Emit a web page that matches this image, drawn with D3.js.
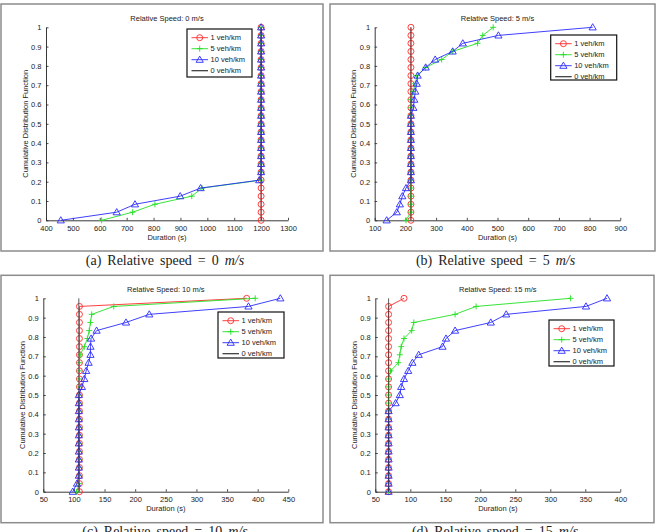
<!DOCTYPE html>
<html lang="en">
<head>
<meta charset="UTF-8">
<title>CDF of duration vs relative speed</title>
<style>
  body { margin: 0; background: #fff; }
  svg { display: block; font-family: "Liberation Sans", Arial, sans-serif; }
</style>
</head>
<body>
<script src="https://cdn.jsdelivr.net/npm/d3@7/dist/d3.min.js"></script>
<script>
// CDF levels (24 runs each)
const cdfLevels = [0, 0.042, 0.083, 0.125, 0.167, 0.208, 0.25, 0.292, 0.333, 0.375, 0.417, 0.458,
    0.5, 0.542, 0.583, 0.625, 0.667, 0.708, 0.75, 0.792, 0.833, 0.875, 0.917, 0.958, 1];
const seriesNames = ["1 veh/km", "5 veh/km", "10 veh/km", "0 veh/km"];
const yTicks = [0, 0.1, 0.2, 0.3, 0.4, 0.5, 0.6, 0.7, 0.8, 0.9, 1];

// (a) relative speed 0 m/s, durations in s
const xTicksA = [400, 500, 600, 700, 800, 900, 1000, 1100, 1200, 1300];
const redA = [1200, 1200, 1200, 1200, 1200, 1200, 1200, 1200, 1200, 1200, 1200, 1200, 1200,
    1200, 1200, 1200, 1200, 1200, 1200, 1200, 1200, 1200, 1200, 1200, 1200];
const greenA = [607, 722, 805, 942, 980, 1200, 1200, 1200, 1200, 1200, 1200, 1200, 1200,
    1200, 1200, 1200, 1200, 1200, 1200, 1200, 1200, 1200, 1200, 1200, 1200];
const blueA = [455, 663, 731, 899, 975, 1193, 1200, 1200, 1200, 1200, 1200, 1200, 1200,
    1200, 1200, 1200, 1200, 1200, 1200, 1200, 1200, 1200, 1200, 1200, 1200];
const zeroA = [1200, 1200];

// (b) relative speed 5 m/s
const xTicksB = [100, 200, 300, 400, 500, 600, 700, 800, 900];
const redB = [218, 218, 218, 218, 218, 218, 218, 218, 218, 218, 218, 218, 218,
    218, 218, 218, 218, 218, 218, 218, 218, 218, 218, 218, 218];
const greenB = [202, 218, 218, 218, 218, 218, 218, 218, 218, 218, 218, 218, 218,
    218, 218, 218, 225, 232, 238, 266, 318, 354, 435, 452, 486];
const blueB = [139, 172, 182, 190, 202, 218, 218, 218, 218, 218, 218, 218, 218,
    218, 226, 229, 232, 237, 240, 266, 297, 354, 387, 503, 810];
const zeroB = [218, 218];

// (c) relative speed 10 m/s
const xTicksC = [50, 100, 150, 200, 250, 300, 350, 400, 450];
const redC = [109, 109, 109, 109, 109, 109, 109, 109, 109, 109, 109, 109, 109,
    109, 109, 109, 109, 109, 109, 109, 109, 109, 109, 109, 382];
const greenC = [104, 109, 109, 109, 109, 109, 109, 109, 109, 109, 109, 109, 109,
    109, 109, 109, 109, 110, 117, 122, 125, 127, 129, 165, 396];
const blueC = [98, 105, 108, 108, 108, 108, 108, 108, 108, 108, 108, 108, 108,
    113, 117, 120, 124, 127, 127, 128, 137, 185, 223, 385, 437];
const zeroC = [108, 108];

// (d) relative speed 15 m/s
const xTicksD = [50, 100, 150, 200, 250, 300, 350, 400];
const redD = [69, 69, 69, 69, 69, 69, 69, 69, 69, 69, 69, 69, 69,
    69, 69, 69, 69, 69, 69, 69, 69, 69, 69, 69, 91];
const greenD = [69, 69, 69, 69, 69, 69, 69, 69, 69, 69, 69, 69, 69,
    69, 69, 72, 83, 85, 87, 91, 102, 105, 164, 194, 329];
const blueD = [69, 69, 69, 69, 69, 69, 69, 69, 69, 69, 69, 79, 85,
    87, 91, 97, 103, 112, 146, 151, 164, 215, 237, 351, 381];
const zeroD = [69, 69];

const colors = ["#ff2a2a", "#22e022", "#2a2aff", "#333"];
const markers = ["circle", "plus", "triangle", null];

// layout of each panel (pixels)
const panels = [
    {title: "Relative Speed: 0 m/s", cap: "(a)", speed: "0", ticks: xTicksA, series: [redA, greenA, blueA], zero: zeroA,
     frame: [1, 4, 322, 247], plot: {l: 46, r: 288, t: 27.3, b: 220.3}, legend: [187, 29, 65, 48]},
    {title: "Relative Speed: 5 m/s", cap: "(b)", speed: "5", ticks: xTicksB, series: [redB, greenB, blueB], zero: zeroB,
     frame: [330, 4, 325, 247], plot: {l: 374.7, r: 620.3, t: 27.3, b: 220.3}, legend: [550.7, 35, 66, 45]},
    {title: "Relative Speed: 10 m/s", cap: "(c)", speed: "10", ticks: xTicksC, series: [redC, greenC, blueC], zero: zeroC,
     frame: [1, 275.3, 322, 247.4], plot: {l: 43.3, r: 288.3, t: 298.3, b: 491.7}, legend: [218, 312, 66, 46]},
    {title: "Relative Speed: 15 m/s", cap: "(d)", speed: "15", ticks: xTicksD, series: [redD, greenD, blueD], zero: zeroD,
     frame: [330, 275.3, 324, 247.4], plot: {l: 375.3, r: 620.3, t: 298.3, b: 491.7}, legend: [549, 320, 65, 46]}
];

const svg = d3.select("body").append("svg")
    .attr("width", 656)
    .attr("height", 532);

function drawMarker(g, type, x, y, color) {
    if (type === "circle") {
        g.append("circle").attr("cx", x).attr("cy", y).attr("r", 3)
            .attr("fill", "none").attr("stroke", color).attr("stroke-width", 0.9);
    } else if (type === "plus") {
        g.append("path").attr("d", `M${x - 3},${y}H${x + 3}M${x},${y - 3}V${y + 3}`)
            .attr("stroke", color).attr("stroke-width", 0.9);
    } else if (type === "triangle") {
        g.append("path").attr("d", `M${x},${y - 3.6}L${x + 3.6},${y + 2.6}L${x - 3.6},${y + 2.6}Z`)
            .attr("fill", "none").attr("stroke", color).attr("stroke-width", 0.9);
    }
}

panels.forEach(function(p) {
    const g = svg.append("g");
    const f = p.frame;
    g.append("rect")
        .attr("x", f[0]).attr("y", f[1]).attr("width", f[2]).attr("height", f[3])
        .attr("fill", "none").attr("stroke", "#8c8c8c").attr("stroke-width", 1.5);

    const x = d3.scaleLinear().domain(d3.extent(p.ticks)).range([p.plot.l, p.plot.r]);
    const y = d3.scaleLinear().domain([0, 1]).range([p.plot.b, p.plot.t]);

    // axes, MATLAB style inward ticks
    const xAxis = g.append("g").attr("transform", `translate(0,${p.plot.b})`)
        .call(d3.axisBottom(x).tickValues(p.ticks).tickFormat(d3.format("d"))
            .tickSizeInner(-2.5).tickSizeOuter(0).tickPadding(5));
    const yAxis = g.append("g").attr("transform", `translate(${p.plot.l},0)`)
        .call(d3.axisLeft(y).tickValues(yTicks).tickFormat(d3.format(""))
            .tickSizeInner(-2.5).tickSizeOuter(0).tickPadding(4.5));
    [xAxis, yAxis].forEach(function(a) {
        a.select(".domain").attr("stroke", "#222").attr("stroke-width", 0.9);
        a.selectAll(".tick line").attr("stroke", "#222").attr("stroke-width", 0.8);
        a.selectAll("text").attr("font-size", "7.5px").attr("fill", "#222")
            .attr("font-family", "'Liberation Sans', Arial, sans-serif");
    });

    g.append("text")
        .attr("x", (p.plot.l + p.plot.r) / 2).attr("y", p.plot.t - 6.5)
        .attr("text-anchor", "middle").attr("font-size", "7.5px").attr("fill", "#222")
        .text(p.title);
    g.append("text")
        .attr("x", (p.plot.l + p.plot.r) / 2).attr("y", p.plot.b + 19.5)
        .attr("text-anchor", "middle").attr("font-size", "7.5px").attr("fill", "#222")
        .text("Duration (s)");
    g.append("text")
        .attr("transform", `translate(${p.plot.l - 18.5},${(p.plot.t + p.plot.b) / 2}) rotate(-90)`)
        .attr("text-anchor", "middle").attr("font-size", "7.5px").attr("fill", "#222")
        .text("Cumulative Distribution Function");

    // series: red, green, blue with markers, then the 0 veh/km line
    const line = d3.line().x(function(d) { return x(d[0]); }).y(function(d) { return y(d[1]); });
    p.series.forEach(function(vals, i) {
        const pts = vals.map(function(v, k) { return [v, cdfLevels[k]]; });
        g.append("path").attr("d", line(pts))
            .attr("fill", "none").attr("stroke", colors[i]).attr("stroke-width", 0.9);
        const mg = g.append("g");
        pts.forEach(function(d) { drawMarker(mg, markers[i], x(d[0]), y(d[1]), colors[i]); });
    });
    g.append("path")
        .attr("d", line([[p.zero[0], 0], [p.zero[1], 1]]))
        .attr("fill", "none").attr("stroke", colors[3]).attr("stroke-width", 0.8);

    // legend
    const lg = p.legend;
    const leg = g.append("g");
    leg.append("rect").attr("x", lg[0]).attr("y", lg[1]).attr("width", lg[2]).attr("height", lg[3])
        .attr("fill", "#fff").attr("stroke", "#111").attr("stroke-width", 1.2);
    seriesNames.forEach(function(name, i) {
        const ry = lg[1] + 8.7 + i * 11;
        leg.append("line").attr("x1", lg[0] + 4.5).attr("x2", lg[0] + 21).attr("y1", ry).attr("y2", ry)
            .attr("stroke", colors[i]).attr("stroke-width", i === 3 ? 1.2 : 0.9);
        drawMarker(leg, markers[i], lg[0] + 12.7, ry, colors[i]);
        leg.append("text").attr("x", lg[0] + 23.5).attr("y", ry + 2.7)
            .attr("font-size", "7.5px").attr("fill", "#222").text(name);
    });

    // sub-figure caption (the bottom row's captions run off the page, as in the source)
    const cap = g.append("text")
        .attr("x", (f[0] + f[0] + f[2]) / 2 + 3).attr("y", f[1] + f[3] + 13.5)
        .attr("text-anchor", "middle")
        .attr("font-family", "'Liberation Serif', 'Times New Roman', serif")
        .attr("font-size", "14px").attr("word-spacing", "2.5px").attr("fill", "#222");
    cap.append("tspan").text(p.cap + " Relative speed = " + p.speed + " ");
    cap.append("tspan").attr("font-style", "italic").text("m/s");
});
</script>
</body>
</html>
